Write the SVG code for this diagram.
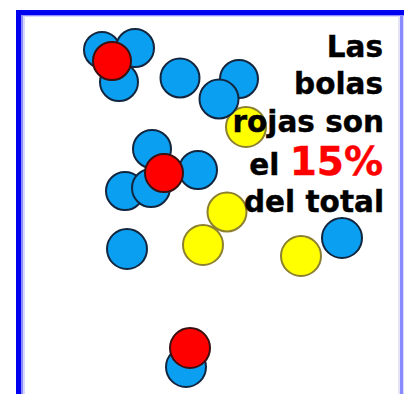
<svg xmlns="http://www.w3.org/2000/svg" width="404" height="394" viewBox="0 0 404 394">
  <style>
    .b { fill: #0a9ff0; stroke: #13263f; stroke-width: 2; }
    .r { fill: #ff0000; stroke: #3a1010; stroke-width: 2; }
    .y { fill: #ffff00; stroke: #8c8030; stroke-width: 2; }
    .t { font-family: "DejaVu Sans", Verdana, sans-serif; font-weight: bold; font-size: 29.5px; fill: #000; stroke: #000; stroke-width: 0.4; }
    .p { font-size: 39px; fill: #ff0000; stroke: #ff0000; }
  </style>
  <rect x="0" y="0" width="404" height="394" fill="#ffffff"/>
  <g id="frame">
    <rect x="16" y="10" width="388" height="384" fill="#0000f0"/>
    <rect x="21" y="15" width="383" height="379" fill="#8c8cff"/>
    <rect x="23" y="16" width="381" height="378" fill="#d8d8ff"/>
    <rect x="25" y="17" width="375" height="377" fill="#ffffff"/>
    <rect x="400" y="16" width="3" height="378" fill="#8a8aff"/>
    <rect x="398" y="16" width="2" height="378" fill="#e4e4f4"/>
  </g>
  <g id="balls">
    <g id="cluster-top-left">
      <circle class="b" cx="102" cy="50" r="18"/>
      <circle class="b" cx="135" cy="48" r="19"/>
      <circle class="b" cx="119" cy="82" r="19"/>
      <circle class="r" cx="112" cy="61" r="19"/>
    </g>
    <circle id="blue-d" class="b" cx="180" cy="78" r="19.5"/>
    <circle id="blue-e" class="b" cx="239" cy="79" r="19"/>
    <circle id="yellow-g" class="y" cx="246" cy="127" r="20"/>
    <circle id="blue-f" class="b" cx="219" cy="99" r="19.5"/>
    <g id="cluster-middle">
      <circle class="b" cx="152" cy="149" r="19"/>
      <circle class="b" cx="198" cy="170" r="19"/>
      <circle class="b" cx="125" cy="191" r="19"/>
      <circle class="b" cx="151" cy="188" r="19"/>
      <circle class="r" cx="164" cy="173" r="19"/>
    </g>
    <circle id="yellow-1" class="y" cx="227" cy="212" r="19.5"/>
    <circle id="yellow-2" class="y" cx="203" cy="245" r="20"/>
    <circle id="blue-l" class="b" cx="127" cy="249" r="20"/>
    <circle id="yellow-3" class="y" cx="301" cy="256" r="20"/>
    <circle id="blue-r" class="b" cx="342" cy="238" r="20"/>
    <g id="cluster-bottom">
      <circle class="b" cx="186" cy="367" r="20"/>
      <circle class="r" cx="190" cy="348" r="20"/>
    </g>
  </g>
  <g id="caption" class="t" text-anchor="end">
    <text x="383" y="57">Las</text>
    <text x="383" y="94">bolas</text>
    <text x="384" y="132">rojas son</text>
    <text x="383" y="175">el <tspan class="p">15%</tspan></text>
    <text x="384" y="212">del total</text>
  </g>
</svg>
